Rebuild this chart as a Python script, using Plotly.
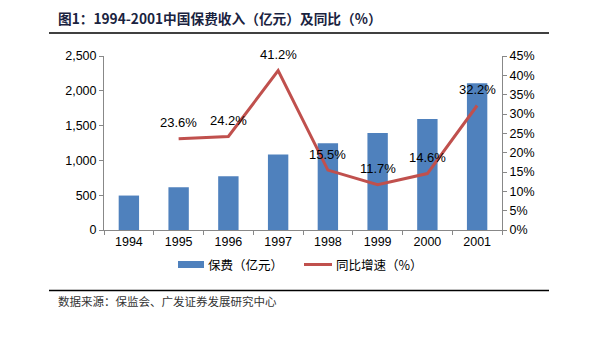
import plotly.graph_objects as go

years = ["1994", "1995", "1996", "1997", "1998", "1999", "2000", "2001"]
premium = [495, 615, 772, 1086, 1247, 1393, 1596, 2109]
growth_years = ["1995", "1996", "1997", "1998", "1999", "2000", "2001"]
growth = [23.6, 24.2, 41.2, 15.5, 11.7, 14.6, 32.2]
growth_labels = ["23.6%", "24.2%", "41.2%", "15.5%", "11.7%", "14.6%", "32.2%"]

BLUE = "#4F81BD"
RED = "#C0504D"
FONT = "Liberation Sans, Arial, Noto Sans CJK SC"
CJK = "Noto Sans CJK SC, Liberation Sans"

W, H = 590, 337
L, R, T, B = 104, 502, 56, 230
pw, ph = R - L, B - T


def px(x):
    return (x - L) / pw


def py(y):
    return (B - y) / ph


fig = go.Figure()
fig.add_trace(go.Bar(x=years, y=premium, marker=dict(color=BLUE, line=dict(width=0)),
                     name="保费（亿元）", yaxis="y", showlegend=False))
fig.add_trace(go.Scatter(x=growth_years, y=growth, mode="lines",
                         line=dict(color=RED, width=3), name="同比增速（%）",
                         yaxis="y2", showlegend=False))

annotations = []
for xv, yv, lab in zip(growth_years, growth, growth_labels):
    annotations.append(dict(x=years.index(xv), y=yv, xref="x", yref="y2", text=lab,
                            showarrow=False, yshift=16,
                            font=dict(family=FONT, size=13, color="#000")))

# title
annotations.append(dict(x=px(56), y=py(18), xref="paper", yref="paper", xanchor="left",
                        yanchor="middle", showarrow=False,
                        text="<b>图1：1994-2001中国保费收入（亿元）及同比（%）</b>",
                        font=dict(family=CJK, size=13.7, color="#1A2340")))
# source
annotations.append(dict(x=px(56), y=py(301), xref="paper", yref="paper", xanchor="left",
                        yanchor="middle", showarrow=False,
                        text="数据来源：保监会、广发证券发展研究中心",
                        font=dict(family=CJK, size=11.5, color="#333")))
# legend texts
annotations.append(dict(x=px(206), y=py(264), xref="paper", yref="paper", xanchor="left",
                        yanchor="middle", showarrow=False, text="保费（亿元）",
                        font=dict(family=CJK, size=12.5, color="#000")))
annotations.append(dict(x=px(334), y=py(264), xref="paper", yref="paper", xanchor="left",
                        yanchor="middle", showarrow=False, text="同比增速（%）",
                        font=dict(family=CJK, size=12.5, color="#000")))

shapes = [
    dict(type="line", xref="paper", yref="paper", x0=px(49), x1=px(549), y0=py(33), y1=py(33),
         line=dict(color="#000", width=1.5)),
    dict(type="line", xref="paper", yref="paper", x0=px(49), x1=px(549), y0=py(290.5), y1=py(290.5),
         line=dict(color="#000", width=1.5)),
    dict(type="rect", xref="paper", yref="paper", x0=px(178), x1=px(204), y0=py(268), y1=py(261),
         fillcolor=BLUE, line=dict(width=0)),
    dict(type="line", xref="paper", yref="paper", x0=px(304), x1=px(332), y0=py(264.5), y1=py(264.5),
         line=dict(color=RED, width=3)),
]

axis_common = dict(showgrid=False, zeroline=False, showline=True, linecolor="#888",
                   linewidth=1, ticks="outside", tickcolor="#888",
                   tickfont=dict(family=FONT, size=12.5, color="#000"))

fig.update_layout(
    width=W, height=H,
    margin=dict(l=L, r=W - R, t=T, b=H - B),
    plot_bgcolor="white", paper_bgcolor="white",
    bargap=0.59,
    xaxis=dict(**axis_common, type="category", categoryorder="array", categoryarray=years,
               range=[-0.5, len(years) - 0.5], tickson="boundaries", ticklen=4),
    yaxis=dict(**axis_common, range=[0, 2500], dtick=500, tickformat=",", ticklen=4),
    yaxis2=dict(**axis_common, overlaying="y", side="right", range=[0, 45], dtick=5,
                ticksuffix="%", ticklen=4),
    annotations=annotations,
    shapes=shapes,
    showlegend=False,
)

fig.write_html("out.html")
